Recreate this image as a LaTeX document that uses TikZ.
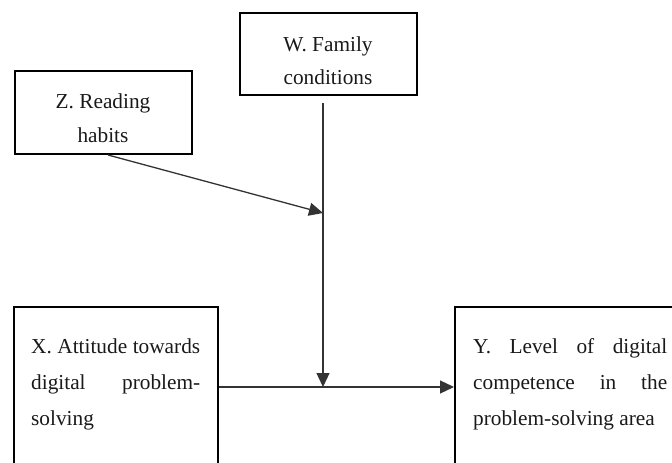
\documentclass[tikz,border=0pt]{standalone}
\usepackage{fontspec}
\setmainfont{Liberation Serif}
\usetikzlibrary{arrows.meta}
\begin{document}
\begin{tikzpicture}[x=1pt,y=-1pt,
  box/.style={draw=black,line width=2pt,inner sep=0pt,fill=none},
  txt/.style={inner sep=0pt,text=black!90,font=\fontsize{21.3}{25}\selectfont},
  conn/.style={draw=black!80,line width=1.3pt,-{Triangle[length=14pt,width=13pt]}}]
\useasboundingbox (0,0) rectangle (672,463);
% boxes
\node[box,minimum width=177pt,minimum height=82pt] (W) at (328.5,54) {};
\node[box,minimum width=177pt,minimum height=83pt] (Z) at (103.5,112.5) {};
\node[box,minimum width=204pt,minimum height=220pt] (X) at (116,417) {};
\node[box,minimum width=225pt,minimum height=220pt] (Y) at (567.5,417) {};
% texts
\node[txt,anchor=base] (w1) at (328,51) {W. Family};
\node[txt,anchor=base] (w2) at (328,84) {conditions};
\node[txt,anchor=base] (z1) at (103,108) {Z. Reading};
\node[txt,anchor=base] (z2) at (103,142) {habits};
\node[txt,anchor=base west] (x1) at (31,353) {\makebox[169pt][s]{X. Attitude towards}};
\node[txt,anchor=base west] (x2) at (31,389) {\makebox[169pt][s]{digital problem-}};
\node[txt,anchor=base west] (x3) at (31,425) {solving};
\node[txt,anchor=base west] (y1) at (473,353) {\makebox[194pt][s]{Y. Level of digital}};
\node[txt,anchor=base west] (y2) at (473,389) {\makebox[194pt][s]{competence in the}};
\node[txt,anchor=base west] (y3) at (473,425) {problem-solving area};
% connectors
\coordinate (m) at (323,387);
\coordinate (ws) at (323,103);
\coordinate (zs) at (108,155);
\coordinate (zw) at (323,213);
\draw[conn] (X.east |- m) -- (Y.west |- m);
\draw[conn] (ws) -- (m);
\draw[conn] (zs) -- (zw);
\end{tikzpicture}
\end{document}
